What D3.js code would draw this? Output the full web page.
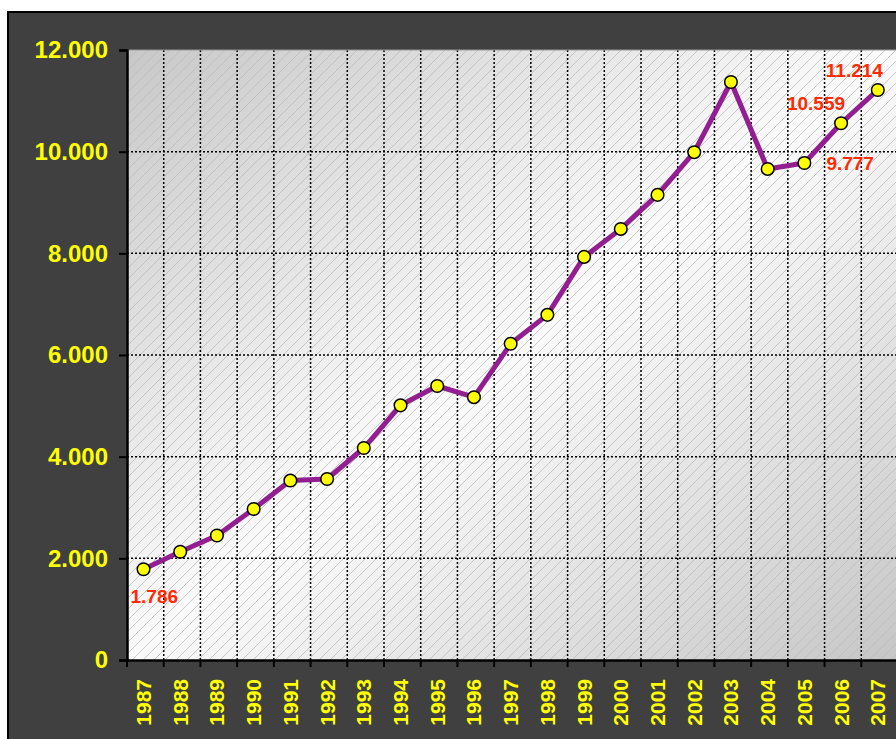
<!DOCTYPE html>
<html>
<head>
<meta charset="utf-8">
<script src="https://cdn.jsdelivr.net/npm/d3@7"></script>
<style>
  body { margin: 0; background: #ffffff; }
  svg { display: block; }
</style>
</head>
<body>
<div id="svg-container"></div>
<script>
var years = ["1987","1988","1989","1990","1991","1992","1993","1994","1995","1996","1997",
             "1998","1999","2000","2001","2002","2003","2004","2005","2006","2007"];
var values = [1786, 2130, 2450, 2970, 3530, 3560, 4170, 5010, 5390, 5170, 6220,
              6790, 7930, 8480, 9150, 9990, 11370, 9660, 9777, 10559, 11214];
var yTicks = [0, 2000, 4000, 6000, 8000, 10000, 12000];
var labelYears = ["1987", "2005", "2006", "2007"];

var width = 896,
    height = 739;

var plotLeft = 127, plotTop = 50, plotBottom = 660, plotRight = 898;

var fmt = function(v){ return d3.format(",")(v).replace(/,/g, "."); };

var svg = d3.select("#svg-container")
            .append("svg")
            .attr("width", width)
            .attr("height", height);

var defs = svg.append("defs");

var grad = defs.append("linearGradient")
               .attr("id", "bg")
               .attr("x1", 0).attr("y1", 0)
               .attr("x2", 1).attr("y2", 1);
grad.append("stop").attr("offset", 0).attr("stop-color", "#c8c8c8");
grad.append("stop").attr("offset", 0.5).attr("stop-color", "#fbfbfb");
grad.append("stop").attr("offset", 1).attr("stop-color", "#c6c6c6");

var hatch = defs.append("pattern")
                .attr("id", "hatch")
                .attr("patternUnits", "userSpaceOnUse")
                .attr("width", 11)
                .attr("height", 11);
hatch.append("path")
     .attr("d", "M-1,1 l2,-2 M0,11 l11,-11 M10,12 l2,-2")
     .attr("stroke", "#bcbcbc")
     .attr("stroke-width", 0.8)
     .attr("fill", "none");

// dark frame
svg.append("rect")
   .attr("x", 8).attr("y", 12)
   .attr("width", width + 10).attr("height", height + 10)
   .attr("fill", "#404040")
   .attr("stroke", "#000000")
   .attr("stroke-width", 2);

var x = d3.scaleBand()
          .domain(years)
          .range([plotLeft, plotRight])
          .padding(0);

var y = d3.scaleLinear()
          .domain([0, 12000])
          .range([plotBottom, plotTop]);

var px = function(d){ return x(d) + x.bandwidth() * 0.45; };

// plot background
svg.append("rect")
   .attr("x", plotLeft).attr("y", plotTop)
   .attr("width", plotRight - plotLeft).attr("height", plotBottom - plotTop)
   .attr("fill", "url(#bg)");
svg.append("rect")
   .attr("x", plotLeft).attr("y", plotTop)
   .attr("width", plotRight - plotLeft).attr("height", plotBottom - plotTop)
   .attr("fill", "url(#hatch)");

// gridlines
svg.append("g")
   .selectAll("line")
   .data(yTicks.slice(1, -1))
   .enter()
     .append("line")
     .attr("x1", plotLeft).attr("x2", plotRight)
     .attr("y1", function(d){ return y(d); })
     .attr("y2", function(d){ return y(d); })
     .attr("stroke", "#000")
     .attr("stroke-width", 1.5)
     .attr("stroke-dasharray", "2,2");

svg.append("g")
   .selectAll("line")
   .data(years.slice(1))
   .enter()
     .append("line")
     .attr("x1", function(d){ return x(d); })
     .attr("x2", function(d){ return x(d); })
     .attr("y1", plotTop).attr("y2", plotBottom)
     .attr("stroke", "#000")
     .attr("stroke-width", 1.5)
     .attr("stroke-dasharray", "2,2");

svg.append("line")
   .attr("x1", plotLeft).attr("x2", plotRight)
   .attr("y1", plotTop).attr("y2", plotTop)
   .attr("stroke", "#999")
   .attr("stroke-width", 1);

// y axis
var yAxis = svg.append("g")
   .attr("transform", "translate(" + plotLeft + ",0)")
   .call(d3.axisLeft(y).tickValues(yTicks).tickSize(8).tickPadding(11).tickFormat(fmt));
yAxis.select(".domain").attr("stroke", "#000").attr("stroke-width", 2.5);
yAxis.selectAll(".tick line").attr("stroke", "#000").attr("stroke-width", 2);
yAxis.selectAll(".tick text")
     .attr("fill", "#ffff00")
     .style("font-family", "'Liberation Sans', Arial, sans-serif")
     .style("font-weight", "bold")
     .style("font-size", "24px");

// x axis
var xAxis = svg.append("g")
   .attr("transform", "translate(0," + plotBottom + ")")
   .call(d3.axisBottom(x).tickSize(0).tickFormat(""));
xAxis.select(".domain").attr("stroke", "#000").attr("stroke-width", 2.5);
xAxis.selectAll(".tick").remove();

xAxis.selectAll(".xtick")
     .data(years)
     .enter()
       .append("line")
       .attr("x1", function(d){ return x(d); })
       .attr("x2", function(d){ return x(d); })
       .attr("y1", 0).attr("y2", 7)
       .attr("stroke", "#000")
       .attr("stroke-width", 2);

xAxis.selectAll(".xlabel")
     .data(years)
     .enter()
       .append("text")
       .attr("transform", function(d){ return "translate(" + (px(d) + 7.5) + ",19) rotate(-90)"; })
       .attr("text-anchor", "end")
       .attr("fill", "#ffff00")
       .style("font-family", "'Liberation Sans', Arial, sans-serif")
       .style("font-weight", "bold")
       .style("font-size", "21px")
       .text(function(d){ return d; });

// line + markers
var line = d3.line()
             .x(function(d, i){ return px(years[i]); })
             .y(function(d){ return y(d); });

svg.append("path")
   .datum(values)
   .attr("d", line)
   .attr("fill", "none")
   .attr("stroke", "#921e92")
   .attr("stroke-width", 5)
   .attr("stroke-linejoin", "round");

svg.selectAll(".dot")
   .data(values)
   .enter()
     .append("circle")
     .attr("class", "dot")
     .attr("cx", function(d, i){ return px(years[i]); })
     .attr("cy", function(d){ return y(d); })
     .attr("r", 6.3)
     .attr("fill", "#ffff00")
     .attr("stroke", "#000")
     .attr("stroke-width", 1.5);

// value labels
var offsets = {
  "1987": {dx: -13, dy: 34, anchor: "start"},
  "2005": {dx: 22, dy: 7, anchor: "start"},
  "2006": {dx: 4, dy: -13, anchor: "end"},
  "2007": {dx: -52, dy: -13, anchor: "start"}
};

svg.selectAll(".vlabel")
   .data(labelYears)
   .enter()
     .append("text")
     .attr("class", "vlabel")
     .attr("x", function(d){ return px(d) + offsets[d].dx; })
     .attr("y", function(d){ return y(values[years.indexOf(d)]) + offsets[d].dy; })
     .attr("text-anchor", function(d){ return offsets[d].anchor; })
     .attr("fill", "#ff2a00")
     .style("font-family", "'Liberation Sans', Arial, sans-serif")
     .style("font-weight", "bold")
     .style("font-size", "19px")
     .text(function(d){ return fmt(values[years.indexOf(d)]); });
</script>
</body>
</html>
